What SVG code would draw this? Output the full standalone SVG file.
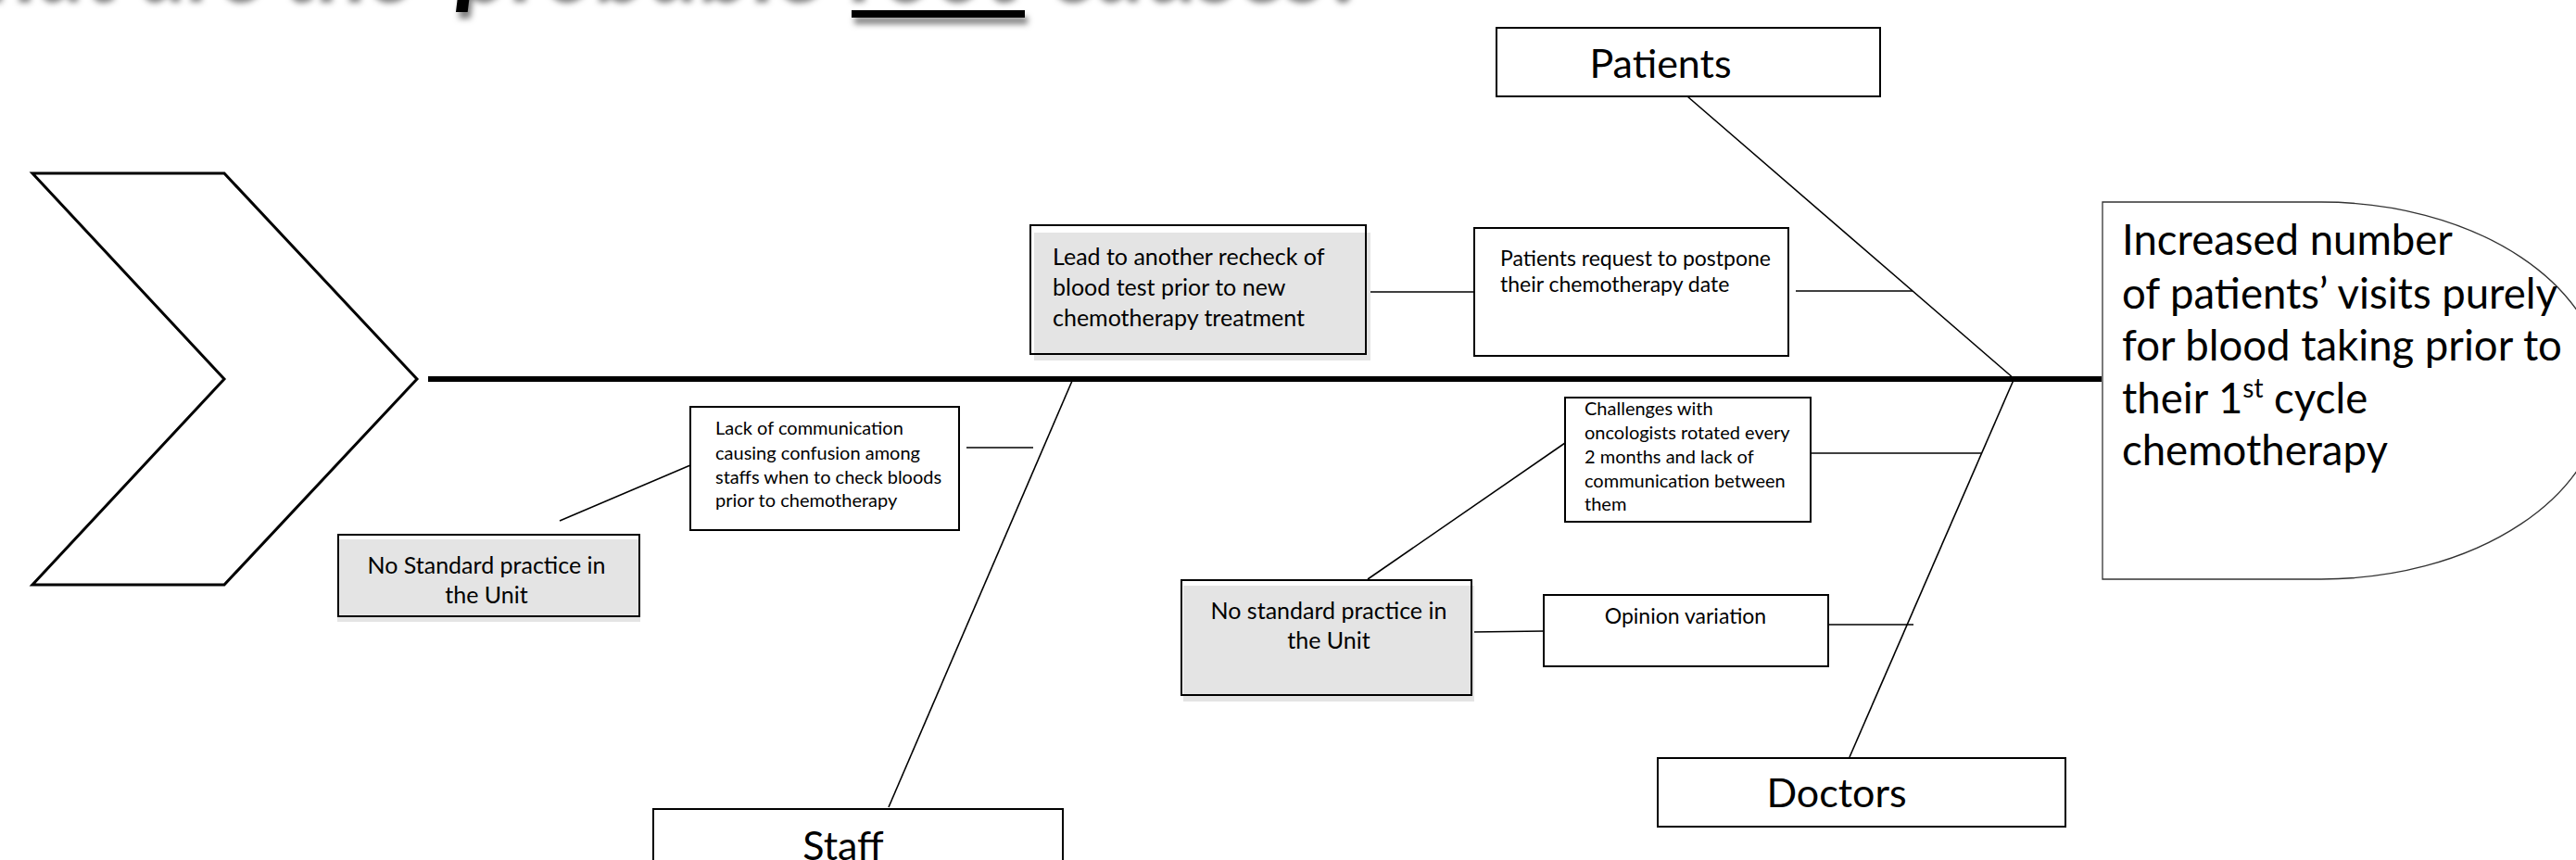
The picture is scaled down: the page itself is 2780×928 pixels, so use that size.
<svg xmlns="http://www.w3.org/2000/svg" width="2780" height="928" viewBox="0 0 2780 928">
<style>
.box{fill:#fff;stroke:#000;stroke-width:2}
.gb{fill:none;stroke:#000;stroke-width:2}
.shade{fill:#e4e4e4}
.ln{stroke:#000;stroke-width:1.6;fill:none}
.t{font-family:Lato,'Liberation Sans',sans-serif;fill:#000}
.c{text-anchor:middle}
.ti{font-family:Lato,'Liberation Sans',sans-serif;fill:#000;font-size:106px;font-style:italic;font-weight:bold}
</style>
<defs>
<filter id="sh" x="-5%" y="-100%" width="110%" height="300%">
<feDropShadow dx="3" dy="7" stdDeviation="3" flood-color="#000" flood-opacity="0.5"/>
</filter>
</defs>
<rect width="2780" height="928" fill="#fff"/>
<g id="title" filter="url(#sh)">
<text class="ti" x="-112" y="-5" textLength="555" lengthAdjust="spacingAndGlyphs">What are the</text>
<text class="ti" x="492" y="-5">probable</text>
<text class="ti" x="915" y="-5">root</text>
<text class="ti" x="1132" y="-5">causes?</text>
<rect x="919" y="11" width="187" height="8" fill="#000"/>
</g>
<g id="connectors">
<line x1="462" y1="409" x2="2268" y2="409" stroke="#000" stroke-width="6"/>
<line class="ln" x1="1821" y1="104" x2="2174" y2="409"/>
<line class="ln" x1="1157" y1="411" x2="959" y2="871"/>
<line class="ln" x1="2173" y1="410" x2="1996" y2="817"/>
<line class="ln" x1="1478" y1="315" x2="1595" y2="315"/>
<line class="ln" x1="1938" y1="314" x2="2064" y2="314"/>
<line class="ln" x1="1043" y1="483" x2="1115" y2="483"/>
<line class="ln" x1="604" y1="562" x2="745" y2="502"/>
<line class="ln" x1="1954" y1="489" x2="2138" y2="489"/>
<line class="ln" x1="1476" y1="625" x2="1689" y2="478"/>
<line class="ln" x1="1588" y1="682" x2="1666" y2="681"/>
<line class="ln" x1="1972" y1="674" x2="2065" y2="674"/>
</g>
<g id="tail">
<polygon points="35,187 242,187 450,409 242,631 35,631 242,409" fill="#fff" stroke="#000" stroke-width="3"/>
</g>
<g id="head">
<path d="M2269,218 H2505 A305,203.5 0 0 1 2505,625 H2269 Z" fill="#fff" stroke="#333" stroke-width="1.3"/>
<text class="t" font-size="45.5"><tspan x="2290" y="275">Increased number</tspan><tspan x="2290" y="333">of patients’ visits purely</tspan><tspan x="2290" y="389">for blood taking prior to</tspan><tspan x="2290" y="446">their 1<tspan font-size="28" dy="-17">st</tspan><tspan dy="17"> cycle</tspan></tspan><tspan x="2290" y="502">chemotherapy</tspan></text>
</g>
<g id="patients">
<rect class="box" x="1615" y="30" width="414" height="74"/>
<text class="t c" x="1792" y="84" font-size="43">Patients</text>
</g>
<g id="staff">
<rect class="box" x="705" y="873" width="442" height="70"/>
<text class="t c" x="910" y="928" font-size="43">Staff</text>
</g>
<g id="doctors">
<rect class="box" x="1789" y="818" width="440" height="74"/>
<text class="t c" x="1982" y="871" font-size="43">Doctors</text>
</g>
<g id="lead">
<rect class="shade" x="1116" y="251" width="363" height="138"/>
<rect class="gb" x="1112" y="243" width="362" height="139"/>
<text class="t" font-size="25"><tspan x="1136" y="286">Lead to another recheck of</tspan><tspan x="1136" y="319">blood test prior to new</tspan><tspan x="1136" y="352">chemotherapy treatment</tspan></text>
</g>
<g id="patreq">
<rect class="box" x="1591" y="246" width="339" height="138"/>
<text class="t" font-size="23"><tspan x="1619" y="287">Patients request to postpone</tspan><tspan x="1619" y="315">their chemotherapy date</tspan></text>
</g>
<g id="lack">
<rect class="box" x="745" y="439" width="290" height="133"/>
<text class="t" font-size="20"><tspan x="772" y="469">Lack of communication</tspan><tspan x="772" y="496">causing confusion among</tspan><tspan x="772" y="522">staffs when to check bloods</tspan><tspan x="772" y="547">prior to chemotherapy</tspan></text>
</g>
<g id="nostd1">
<rect class="shade" x="364" y="582" width="327" height="89"/>
<rect class="gb" x="365" y="577" width="325" height="88"/>
<text class="t c" font-size="25"><tspan x="525" y="619">No Standard practice in</tspan><tspan x="525" y="651">the Unit</tspan></text>
</g>
<g id="challenges">
<rect class="box" x="1689" y="429" width="265" height="134"/>
<text class="t" font-size="20"><tspan x="1710" y="448">Challenges with</tspan><tspan x="1710" y="474">oncologists rotated every</tspan><tspan x="1710" y="500">2 months and lack of</tspan><tspan x="1710" y="526">communication between</tspan><tspan x="1710" y="551">them</tspan></text>
</g>
<g id="opinion">
<rect class="box" x="1666" y="642" width="307" height="77"/>
<text class="t c" x="1819" y="673" font-size="23">Opinion variation</text>
</g>
<g id="nostd2">
<rect class="shade" x="1277" y="632" width="314" height="125"/>
<rect class="gb" x="1275" y="626" width="313" height="124"/>
<text class="t c" font-size="25"><tspan x="1434" y="668">No standard practice in</tspan><tspan x="1434" y="700">the Unit</tspan></text>
</g>
</svg>
